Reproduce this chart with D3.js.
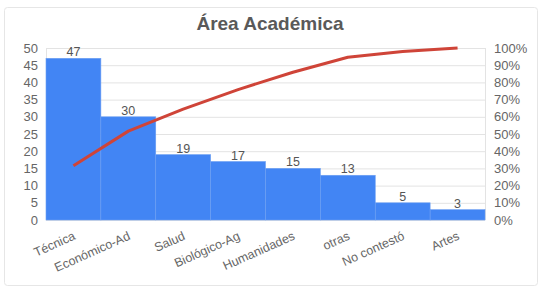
<!DOCTYPE html>
<html><head><meta charset="utf-8">
<script src="https://cdn.jsdelivr.net/npm/d3@7"></script>
<style>body{margin:0;background:#fff;font-family:"Liberation Sans",Arial,sans-serif}</style>
</head><body><svg id="c" width="542" height="290"></svg>
<script>
const categories = ["Técnica","Económico-Ad","Salud","Biológico-Ag","Humanidades","otras","No contestó","Artes"];
const values = [47,30,19,17,15,13,5,3];
const leftTicks = [0,5,10,15,20,25,30,35,40,45,50];
const rightTicks = [0,10,20,30,40,50,60,70,80,90,100];

const total = d3.sum(values);
let acc = 0;
const cumPct = values.map(v => (acc += v) / total * 100);

const svg = d3.select("#c");
const m = {l:46, r:485, t:48, b:220};
svg.append("rect").attr("x",4.5).attr("y",7.5).attr("width",533).attr("height",278)
  .attr("rx",3).attr("fill","#fff").attr("stroke","#e6e6e6");

const x = d3.scaleBand().domain(categories).range([m.l, m.r]).padding(0);
const y = d3.scaleLinear().domain([0,50]).range([m.b, m.t]);
const y2 = d3.scaleLinear().domain([0,100]).range([m.b, m.t]);

// grid
svg.append("g").selectAll("line").data(leftTicks).join("line")
  .attr("x1",m.l).attr("x2",m.r).attr("y1",d=>y(d)+0.5).attr("y2",d=>y(d)+0.5)
  .attr("stroke","#e3e3e3");
svg.append("line").attr("x1",m.r+0.5).attr("x2",m.r+0.5).attr("y1",m.t).attr("y2",m.b).attr("stroke","#e3e3e3");
svg.append("line").attr("x1",m.l+0.5).attr("x2",m.l+0.5).attr("y1",m.t).attr("y2",m.b).attr("stroke","#e3e3e3");

// bars
svg.append("g").selectAll("rect").data(values).join("rect")
  .attr("x",(d,i)=>x(categories[i])).attr("width",x.bandwidth())
  .attr("y",d=>y(d)).attr("height",d=>y(0)-y(d))
  .attr("fill","#4285f4").attr("stroke","#6c9ef2").attr("stroke-width",0.6);

// value labels
svg.append("g").selectAll("text").data(values).join("text")
  .attr("x",(d,i)=>x(categories[i])+x.bandwidth()/2).attr("y",d=>y(d)-2)
  .attr("text-anchor","middle").attr("font-size",12.5).attr("fill","#555").text(d=>d);

// line
const line = d3.line().x((d,i)=>x(categories[i])+x.bandwidth()/2).y(d=>y2(d));
svg.append("path").datum(cumPct).attr("d",line).attr("fill","none")
  .attr("stroke","#cf4438").attr("stroke-width",3).attr("stroke-linejoin","round");

// left axis
const la = svg.append("g").attr("transform",`translate(${m.l},0)`)
  .call(d3.axisLeft(y).tickValues(leftTicks).tickSize(0).tickPadding(8));
la.select(".domain").remove();
la.selectAll("text").attr("font-size",13).attr("fill","#666").attr("font-family","Liberation Sans,Arial,sans-serif");

// right axis
const ra = svg.append("g").attr("transform",`translate(${m.r},0)`)
  .call(d3.axisRight(y2).tickValues(rightTicks).tickSize(0).tickPadding(9).tickFormat(d=>d+"%"));
ra.select(".domain").remove();
ra.selectAll("text").attr("font-size",13).attr("fill","#666").attr("font-family","Liberation Sans,Arial,sans-serif");

// x labels
svg.append("g").selectAll("text").data(categories).join("text")
  .attr("transform",d=>`translate(${x(d)+x.bandwidth()/2+1},${m.b+15}) rotate(-24)`)
  .attr("text-anchor","end").attr("dy","0.35em").attr("font-size",12.5).attr("fill","#666").text(d=>d);

// title
svg.append("text").attr("x",270).attr("y",30).attr("text-anchor","middle")
  .attr("font-size",19).attr("font-weight","bold").attr("fill","#595959").text("Área Académica");
</script></body></html>
